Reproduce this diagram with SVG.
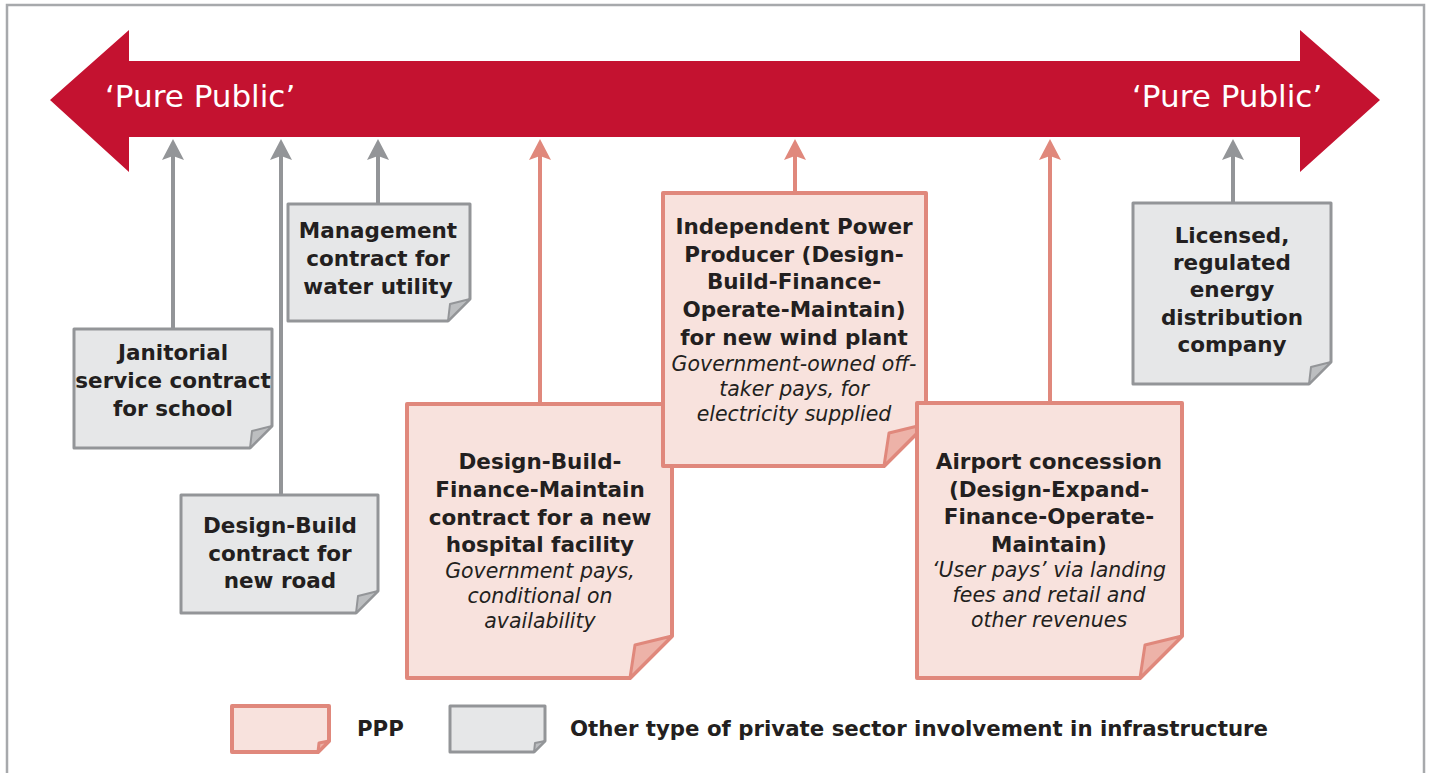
<svg xmlns="http://www.w3.org/2000/svg" width="1429" height="773" viewBox="0 0 1429 773">
<style>
.b{font-family:"DejaVu Sans",sans-serif;font-weight:bold;font-size:21.5px;fill:#231F20;text-anchor:middle}
.i{font-family:"DejaVu Sans",sans-serif;font-style:italic;font-size:20.5px;fill:#231F20;text-anchor:middle}
.t{font-family:"DejaVu Sans",sans-serif;font-size:31px;fill:#FFFFFF}
.lg{font-family:"DejaVu Sans",sans-serif;font-weight:bold;font-size:21.3px;fill:#231F20}
.gbox{fill:#E6E7E8;stroke:#939598;stroke-width:3;stroke-linejoin:round}
.gflap{fill:#BCBEC0;stroke:#939598;stroke-width:2;stroke-linejoin:round}
.pbox{fill:#F8E2DD;stroke:#E0887C;stroke-width:4;stroke-linejoin:round}
.pflap{fill:#EDB2A8;stroke:#E0887C;stroke-width:3;stroke-linejoin:round}
.gl{stroke:#939598;stroke-width:4;fill:none;marker-end:url(#ga)}
.pl{stroke:#E0887C;stroke-width:4;fill:none;marker-end:url(#pa)}
</style>
<defs>
<marker id="ga" markerUnits="userSpaceOnUse" viewBox="0 0 21 22" markerWidth="21" markerHeight="22" refX="10" refY="11" orient="auto">
<path d="M0,0 L21,11 L0,22 L4,11 Z" fill="#939598"/>
</marker>
<marker id="pa" markerUnits="userSpaceOnUse" viewBox="0 0 21 22" markerWidth="21" markerHeight="22" refX="10" refY="11" orient="auto">
<path d="M0,0 L21,11 L0,22 L4,11 Z" fill="#E0887C"/>
</marker>
</defs>
<rect x="0" y="0" width="1429" height="773" fill="#FFFFFF"/>
<rect id="frame" x="7" y="5" width="1417" height="820" fill="none" stroke="#A7A9AC" stroke-width="2.5"/>

<g id="spectrum">
<path d="M50,100 L129,30 L129,61 L1300,61 L1300,30 L1380,100 L1300,172 L1300,137 L129,137 L129,172 Z" fill="#C41230"/>
<text class="t" x="105" y="107">‘Pure Public’</text>
<text class="t" x="1132" y="107">‘Pure Public’</text>
</g>

<g id="connectors">
<line class="gl" x1="173" y1="329" x2="173" y2="150"/>
<line class="gl" x1="281" y1="495" x2="281" y2="150"/>
<line class="gl" x1="378" y1="204" x2="378" y2="150"/>
<line class="pl" x1="540" y1="404" x2="540" y2="150"/>
<line class="pl" x1="795" y1="193" x2="795" y2="150"/>
<line class="pl" x1="1050" y1="403" x2="1050" y2="150"/>
<line class="gl" x1="1233" y1="203" x2="1233" y2="150"/>
</g>

<g id="janitorial">
<path class="gbox" d="M74,329 H272 V426 L250,448 H74 Z"/>
<path class="gflap" d="M272,426 L250,448 L252,431 Z"/>
<text class="b" x="173"><tspan x="173" y="360">Janitorial</tspan><tspan x="173" y="388">service contract</tspan><tspan x="173" y="416">for school</tspan></text>
</g>

<g id="design-build">
<path class="gbox" d="M181,495 H378 V591 L356,613 H181 Z"/>
<path class="gflap" d="M378,591 L356,613 L358,596 Z"/>
<text class="b"><tspan x="280" y="533">Design-Build</tspan><tspan x="280" y="561">contract for</tspan><tspan x="280" y="588">new road</tspan></text>
</g>

<g id="management">
<path class="gbox" d="M288,204 H470 V299 L448,321 H288 Z"/>
<path class="gflap" d="M470,299 L448,321 L450,304 Z"/>
<text class="b"><tspan x="378" y="238">Management</tspan><tspan x="378" y="266">contract for</tspan><tspan x="378" y="294">water utility</tspan></text>
</g>

<g id="hospital">
<path class="pbox" d="M407,404 H672 V636 L630,678 H407 Z"/>
<path class="pflap" d="M672,636 L630,678 L635,645 Z"/>
<text class="b"><tspan x="540" y="469">Design-Build-</tspan><tspan x="540" y="497">Finance-Maintain</tspan><tspan x="540" y="525">contract for a new</tspan><tspan x="540" y="552">hospital facility</tspan></text>
<text class="i"><tspan x="540" y="578">Government pays,</tspan><tspan x="540" y="603">conditional on</tspan><tspan x="540" y="628">availability</tspan></text>
</g>

<g id="ipp">
<path class="pbox" d="M663,193 H926 V424 L884,466 H663 Z"/>
<path class="pflap" d="M926,424 L884,466 L889,433 Z"/>
<text class="b"><tspan x="794" y="234">Independent Power</tspan><tspan x="794" y="262">Producer (Design-</tspan><tspan x="794" y="289">Build-Finance-</tspan><tspan x="794" y="317">Operate-Maintain)</tspan><tspan x="794" y="345">for new wind plant</tspan></text>
<text class="i"><tspan x="794" y="371">Government-owned off-</tspan><tspan x="794" y="396">taker pays, for</tspan><tspan x="794" y="421">electricity supplied</tspan></text>
</g>

<g id="airport">
<path class="pbox" d="M917,403 H1182 V636 L1140,678 H917 Z"/>
<path class="pflap" d="M1182,636 L1140,678 L1145,645 Z"/>
<text class="b"><tspan x="1049" y="469">Airport concession</tspan><tspan x="1049" y="497">(Design-Expand-</tspan><tspan x="1049" y="524">Finance-Operate-</tspan><tspan x="1049" y="552">Maintain)</tspan></text>
<text class="i"><tspan x="1049" y="577">‘User pays’ via landing</tspan><tspan x="1049" y="602">fees and retail and</tspan><tspan x="1049" y="627">other revenues</tspan></text>
</g>

<g id="licensed">
<path class="gbox" d="M1133,203 H1331 V362 L1309,384 H1133 Z"/>
<path class="gflap" d="M1331,362 L1309,384 L1311,367 Z"/>
<text class="b"><tspan x="1232" y="243">Licensed,</tspan><tspan x="1232" y="270">regulated</tspan><tspan x="1232" y="297">energy</tspan><tspan x="1232" y="325">distribution</tspan><tspan x="1232" y="352">company</tspan></text>
</g>

<g id="legend">
<path class="pbox" d="M232,706 H329 V741 L318,752 H232 Z"/>
<path class="pflap" d="M329,741 L318,752 L319,743 Z"/>
<text class="lg" x="357" y="736">PPP</text>
<path class="gbox" d="M450,706 H545 V741 L534,752 H450 Z"/>
<path class="gflap" d="M545,741 L534,752 L535,743 Z"/>
<text class="lg" x="570" y="736">Other type of private sector involvement in infrastructure</text>
</g>
</svg>
